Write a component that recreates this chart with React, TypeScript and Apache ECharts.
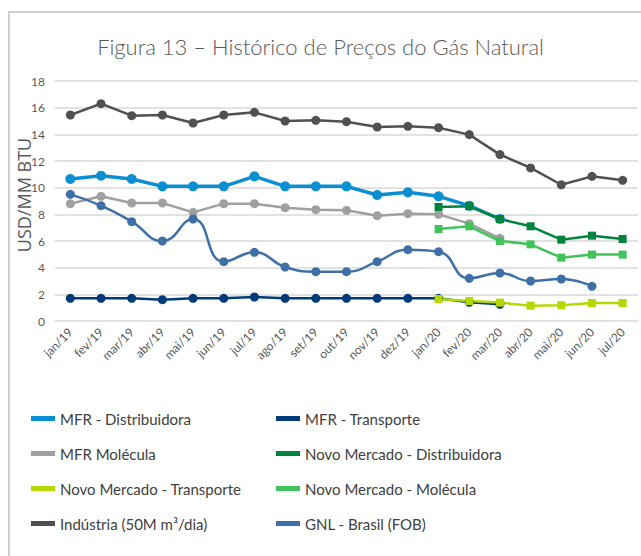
import React, { useEffect, useRef } from "react";
import * as echarts from "echarts";

const categories = ["jan/19","fev/19","mar/19","abr/19","mai/19","jun/19","jul/19","ago/19","set/19","out/19","nov/19","dez/19","jan/20","fev/20","mar/20","abr/20","mai/20","jun/20","jul/20"];

const mfrDistribuidora = [10.65,10.9,10.65,10.1,10.1,10.1,10.85,10.1,10.1,10.1,9.45,9.65,9.35,8.65,7.65,null,null,null,null];
const mfrTransporte = [1.7,1.7,1.7,1.6,1.7,1.7,1.8,1.7,1.7,1.7,1.7,1.7,1.7,1.4,1.25,null,null,null,null];
const mfrMolecula = [8.8,9.35,8.85,8.85,8.15,8.8,8.8,8.5,8.35,8.3,7.9,8.05,8.0,7.3,6.2,null,null,null,null];
const novoDistribuidora = [null,null,null,null,null,null,null,null,null,null,null,null,8.55,8.6,7.65,7.1,6.1,6.4,6.15];
const novoTransporte = [null,null,null,null,null,null,null,null,null,null,null,null,1.65,1.5,1.38,1.15,1.18,1.35,1.35];
const novoMolecula = [null,null,null,null,null,null,null,null,null,null,null,null,6.9,7.1,6.0,5.75,4.75,4.98,4.98];
const industria = [15.45,16.3,15.4,15.45,14.85,15.45,15.65,15.0,15.05,14.95,14.55,14.6,14.5,13.98,12.48,11.48,10.22,10.85,10.55];
const gnlBrasil = [9.5,8.65,7.45,6.0,7.65,4.45,5.15,4.05,3.7,3.7,4.45,5.35,5.2,3.2,3.6,3.0,3.15,2.6,null];

const yTicks = [0, 2, 4, 6, 8, 10, 12, 14, 16, 18];

const FONT = "Lato, 'Open Sans', sans-serif";

export default function App() {
  const ref = useRef<HTMLDivElement>(null);
  useEffect(() => {
    if (!ref.current) return;
    const chart = echarts.init(ref.current, undefined, { renderer: "svg" });
    const mk = (name: string, data: any[], color: string, symbol: string, width: number, size: number, smooth = false) => ({
      name,
      type: "line",
      data,
      smooth,
      symbol,
      symbolSize: size,
      showSymbol: true,
      connectNulls: false,
      lineStyle: { color, width },
      itemStyle: { color },
      emphasis: { disabled: true },
    });
    const legendText = { fontSize: 15, color: "#404040", fontFamily: FONT };
    chart.setOption({
      animation: false,
      backgroundColor: "#ffffff",
      title: {
        text: "Figura 13 – Histórico de Preços do Gás Natural",
        left: "center",
        top: 30,
        textStyle: { fontSize: 22, fontWeight: 300, color: "#595959", fontFamily: FONT },
      },
      graphic: [
        { type: "line", shape: { x1: 9, y1: 12, x2: 9, y2: 556 }, style: { stroke: "#d0d0d0", lineWidth: 2 } },
        { type: "line", shape: { x1: 8, y1: 12, x2: 641, y2: 12 }, style: { stroke: "#d0d0d0", lineWidth: 2 } },
      ],
      legend: [
        {
          orient: "vertical",
          left: 26,
          top: 406,
          itemWidth: 24,
          itemHeight: 5,
          itemGap: 20,
          icon: "rect",
          textStyle: legendText,
          data: ["MFR - Distribuidora", "MFR Molécula", "Novo Mercado - Transporte", "Indústria (50M m³/dia)"],
          selectedMode: false,
        },
        {
          orient: "vertical",
          left: 271,
          top: 406,
          itemWidth: 24,
          itemHeight: 5,
          itemGap: 20,
          icon: "rect",
          textStyle: legendText,
          data: ["MFR - Transporte", "Novo Mercado - Distribuidora", "Novo Mercado - Molécula", "GNL - Brasil (FOB)"],
          selectedMode: false,
        },
      ],
      grid: { left: 55, right: 3, top: 81, height: 240 },
      xAxis: {
        type: "category",
        data: categories,
        boundaryGap: true,
        axisLine: { show: false },
        axisTick: { show: false },
        axisLabel: { rotate: 45, fontSize: 12, color: "#595959", fontFamily: FONT, margin: 9, interval: 0 },
      },
      yAxis: {
        type: "value",
        min: yTicks[0],
        max: yTicks[yTicks.length - 1],
        interval: 2,
        name: "USD/MM BTU",
        nameLocation: "middle",
        nameGap: 22,
        nameMoveOverlap: false,
        nameTextStyle: { fontSize: 18, color: "#595959", fontFamily: "'Open Sans', sans-serif", padding: [0, 0, 0, 12] },
        axisLine: { show: false },
        axisTick: { show: false },
        axisLabel: { fontSize: 12, color: "#595959", fontFamily: FONT, margin: 10 },
        splitLine: { lineStyle: { color: "#d9d9d9", width: 1.5 } },
      },
      series: [
        mk("MFR - Distribuidora", mfrDistribuidora, "#0a8fd2", "circle", 3.5, 10),
        mk("MFR - Transporte", mfrTransporte, "#003a7a", "circle", 2.5, 9),
        mk("MFR Molécula", mfrMolecula, "#a0a0a0", "circle", 2.5, 9),
        mk("Novo Mercado - Distribuidora", novoDistribuidora, "#00843d", "rect", 2.5, 8),
        mk("Novo Mercado - Transporte", novoTransporte, "#b5d800", "rect", 2.5, 8),
        mk("Novo Mercado - Molécula", novoMolecula, "#40c45a", "rect", 2.5, 8),
        mk("Indústria (50M m³/dia)", industria, "#505050", "circle", 2.5, 9),
        mk("GNL - Brasil (FOB)", gnlBrasil, "#3e6fa6", "circle", 2.5, 9, true),
      ],
    });
    return () => chart.dispose();
  }, []);
  return <div ref={ref} style={{ width: 641, height: 556, position: "absolute", left: 0, top: 0 }} />;
}
